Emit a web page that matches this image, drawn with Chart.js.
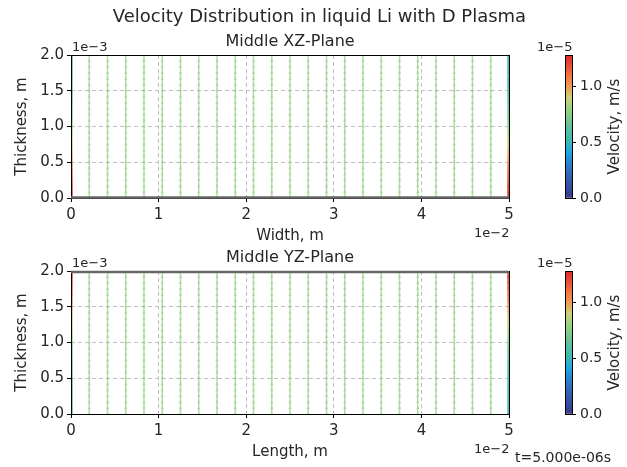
<!DOCTYPE html>
<html>
<head>
<meta charset="utf-8">
<script src="https://cdn.jsdelivr.net/npm/chart.js@4/dist/chart.umd.min.js"></script>
<style>
  body { margin: 0; background: #fff; }
  #fig { position: relative; width: 627px; height: 467px; overflow: hidden; font-family: 'DejaVu Sans', sans-serif; color: #262626; }
  canvas { position: absolute; }
  .txt { position: absolute; white-space: nowrap; font-size: 15px; line-height: 1; }
  .exp { font-size: 13px; }
</style>
</head>
<body>
<div id="fig">
  <canvas id="xz" style="left:0px;top:0px" width="627" height="245"></canvas>
  <canvas id="yz" style="left:0px;top:216px" width="627" height="245"></canvas>
  <canvas id="cb1" style="left:540px;top:0px" width="87" height="245"></canvas>
  <canvas id="cb2" style="left:540px;top:216px" width="87" height="245"></canvas>

  <div class="txt" style="left:6px;width:627px;text-align:center;top:7px;font-size:18px">Velocity Distribution in liquid Li with D Plasma</div>
  <div class="txt" style="left:71px;width:438px;text-align:center;top:33px;font-size:16px">Middle XZ-Plane</div>
  <div class="txt" style="left:71px;width:438px;text-align:center;top:249px;font-size:16px">Middle YZ-Plane</div>
  <div class="txt exp" style="left:72px;top:40px">1e−3</div>
  <div class="txt exp" style="left:72px;top:256px">1e−3</div>
  <div class="txt exp" style="left:474px;top:226px">1e−2</div>
  <div class="txt exp" style="left:474px;top:442px">1e−2</div>
  <div class="txt exp" style="left:537px;top:40px">1e−5</div>
  <div class="txt exp" style="left:537px;top:256px">1e−5</div>
  <div class="txt" style="left:558px;top:119px;width:112px;text-align:center;transform:rotate(-90deg)">Velocity, m/s</div>
  <div class="txt" style="left:558px;top:335px;width:112px;text-align:center;transform:rotate(-90deg)">Velocity, m/s</div>
  <div class="txt" style="left:515px;top:450px;font-size:14px">t=5.000e-06s</div>
</div>
<script>
// grid of arrow tails (x in 1e-2 m, thickness in 1e-3 m)
const xCols = [0, 0.208, 0.417, 0.625, 0.833, 1.042, 1.25, 1.458, 1.667, 1.875, 2.083, 2.292, 2.5,
               2.708, 2.917, 3.125, 3.333, 3.542, 3.75, 3.958, 4.167, 4.375, 4.583, 4.792, 5];
const yRows = [0, 0.083, 0.167, 0.25, 0.333, 0.417, 0.5, 0.583, 0.667, 0.75, 0.833, 0.917, 1.0,
               1.083, 1.167, 1.25, 1.333, 1.417, 1.5, 1.583, 1.667, 1.75, 1.833, 1.917, 2.0];

// velocity magnitudes, 1e-5 m/s
const interiorSpeed = [0.78, 0.78, 0.78, 0.78, 0.78, 0.78, 0.78, 0.78, 0.78, 0.78, 0.78, 0.78,
                       0.78, 0.78, 0.78, 0.78, 0.78, 0.78, 0.78, 0.78, 0.78, 0.78, 0.78];
// side walls, listed from y=0 upward
const xzLeftWall  = [1.26, 1.24, 1.21, 1.17, 1.13, 1.08, 1.03, 0.98, 0.93, 0.88, 0.83, 0.78, 0.74,
                     0.70, 0.66, 0.63, 0.60, 0.58, 0.56, 0.54, 0.53, 0.52, 0.51, 0.50, 0.50];
const xzRightWall = [1.26, 1.25, 1.22, 1.18, 1.14, 1.09, 1.04, 0.99, 0.94, 0.89, 0.84, 0.79, 0.75,
                     0.71, 0.67, 0.64, 0.61, 0.58, 0.56, 0.54, 0.53, 0.52, 0.51, 0.50, 0.50];
const yzLeftWall  = [0.50, 0.50, 0.51, 0.52, 0.53, 0.54, 0.56, 0.58, 0.60, 0.63, 0.66, 0.70, 0.74,
                     0.78, 0.83, 0.88, 0.93, 0.98, 1.03, 1.08, 1.13, 1.17, 1.21, 1.24, 1.26];
const yzRightWall = [0.50, 0.50, 0.51, 0.52, 0.53, 0.54, 0.56, 0.58, 0.60, 0.63, 0.66, 0.70, 0.74,
                     0.78, 0.83, 0.88, 0.93, 0.98, 1.03, 1.08, 1.13, 1.17, 1.21, 1.24, 1.26];

const vMax = 1.277;
const cbTicks = [0, 0.5, 1.0];

// colormap stops
const cmap = [
  [0.00, [59, 58, 138]], [0.12, [51, 88, 168]], [0.24, [42, 128, 200]], [0.32, [30, 168, 224]],
  [0.40, [64, 184, 176]], [0.50, [96, 194, 152]], [0.60, [140, 208, 130]], [0.70, [200, 210, 120]],
  [0.78, [240, 154, 88]], [0.88, [240, 104, 64]], [1.00, [224, 40, 40]]
];
function colorFor(v, a) {
  const t = Math.max(0, Math.min(1, v / vMax));
  for (let i = 1; i < cmap.length; i++) {
    if (t <= cmap[i][0]) {
      const [t0, c0] = cmap[i - 1], [t1, c1] = cmap[i];
      const f = (t - t0) / (t1 - t0);
      const c = c0.map((k, j) => Math.round(k + (c1[j] - k) * f));
      return `rgba(${c[0]},${c[1]},${c[2]},${a})`;
    }
  }
  return `rgba(224,40,40,${a})`;
}

function columnDatasets(leftWall, rightWall) {
  return xCols.map((x, i) => {
    const edge = i === 0 || i === xCols.length - 1;
    let speeds;
    if (i === 0) speeds = leftWall;
    else if (edge) speeds = rightWall;
    else speeds = yRows.map(() => interiorSpeed[i - 1]);
    const alpha = edge ? 0.9 : 0.7;
    return {
      data: yRows.map(y => ({ x: x, y: y })),
      showLine: true,
      borderWidth: edge ? 3.5 : 1.5,
      borderColor: colorFor(speeds[0], alpha),
      segment: { borderColor: c => colorFor(speeds[c.p0DataIndex], alpha) },
      pointStyle: 'triangle',
      pointRadius: 2.2,
      pointBorderWidth: 0,
      pointBackgroundColor: c => colorFor(speeds[c.dataIndex], alpha * 0.7)
    };
  });
}

const frame = {
  id: 'frame',
  afterDraw(chart, args, opts) {
    const { ctx, chartArea: a } = chart;
    ctx.save();
    ctx.strokeStyle = '#000';
    ctx.lineWidth = 1;
    ctx.strokeRect(a.left + 0.5, a.top + 0.5, a.right - a.left, a.bottom - a.top);
    if (opts.wall) {
      const yy = opts.wall === 'top' ? a.top + 1 : a.bottom - 0.5;
      ctx.strokeStyle = '#666';
      ctx.lineWidth = 2.5;
      ctx.beginPath(); ctx.moveTo(a.left, yy); ctx.lineTo(a.right, yy); ctx.stroke();
    }
    ctx.restore();
  }
};

const font = { family: 'DejaVu Sans', size: 15 };

function planeChart(id, xTitle, leftWall, rightWall, wall) {
  new Chart(document.getElementById(id), {
    type: 'scatter',
    data: { datasets: columnDatasets(leftWall, rightWall) },
    plugins: [frame],
    options: {
      responsive: false,
      animation: false,
      layout: { padding: { top: 55, right: 118, left: 13, bottom: 0 } },
      plugins: { legend: { display: false }, tooltip: { enabled: false }, frame: { wall: wall } },
      scales: {
        x: {
          type: 'linear', min: 0, max: 5,
          ticks: { stepSize: 1, font: font, color: '#262626', padding: 4, maxRotation: 0 },
          grid: { color: '#c0c0c0', tickColor: '#000', tickBorderDash: [], tickLength: 4 },
          border: { display: false, dash: [4, 3] },
          title: { display: true, text: xTitle, font: font, color: '#262626', padding: { top: 4, bottom: 0 } },
          afterFit: s => { s.height = 47; }
        },
        y: {
          min: 0, max: 2,
          ticks: { stepSize: 0.5, font: font, color: '#262626', padding: 3, callback: v => v.toFixed(1) },
          grid: { color: '#c0c0c0', tickColor: '#000', tickBorderDash: [], tickLength: 4 },
          border: { display: false, dash: [4, 3] },
          title: { display: true, text: 'Thickness, m', font: font, color: '#262626', padding: { top: 0, bottom: 4 } },
          afterFit: s => { s.width = 58; }
        }
      }
    }
  });
}

function colorbar(id) {
  new Chart(document.getElementById(id), {
    type: 'bar',
    data: {
      labels: [''],
      datasets: [{
        data: [vMax],
        barPercentage: 1, categoryPercentage: 1,
        backgroundColor: c => {
          const a = c.chart.chartArea;
          if (!a) return '#888';
          const g = c.chart.ctx.createLinearGradient(0, a.bottom, 0, a.top);
          cmap.forEach(([t]) => g.addColorStop(t, colorFor(t * vMax, 1)));
          return g;
        }
      }]
    },
    plugins: [frame],
    options: {
      responsive: false,
      animation: false,
      layout: { padding: { top: 55, left: 25, right: 0, bottom: 47 } },
      plugins: { legend: { display: false }, tooltip: { enabled: false }, frame: {} },
      scales: {
        x: { display: false },
        y: {
          position: 'right', min: 0, max: vMax,
          afterBuildTicks: s => { s.ticks = cbTicks.map(v => ({ value: v })); },
          ticks: { font: { family: 'DejaVu Sans', size: 14 }, color: '#262626', padding: 4, callback: v => v.toFixed(1) },
          grid: { drawOnChartArea: false, tickColor: '#000', tickLength: 4 },
          border: { display: false },
          afterFit: s => { s.width = 55; }
        }
      }
    }
  });
}

planeChart('xz', 'Width, m', xzLeftWall, xzRightWall, 'bottom');
planeChart('yz', 'Length, m', yzLeftWall, yzRightWall, 'top');
colorbar('cb1');
colorbar('cb2');
</script>
</body>
</html>
